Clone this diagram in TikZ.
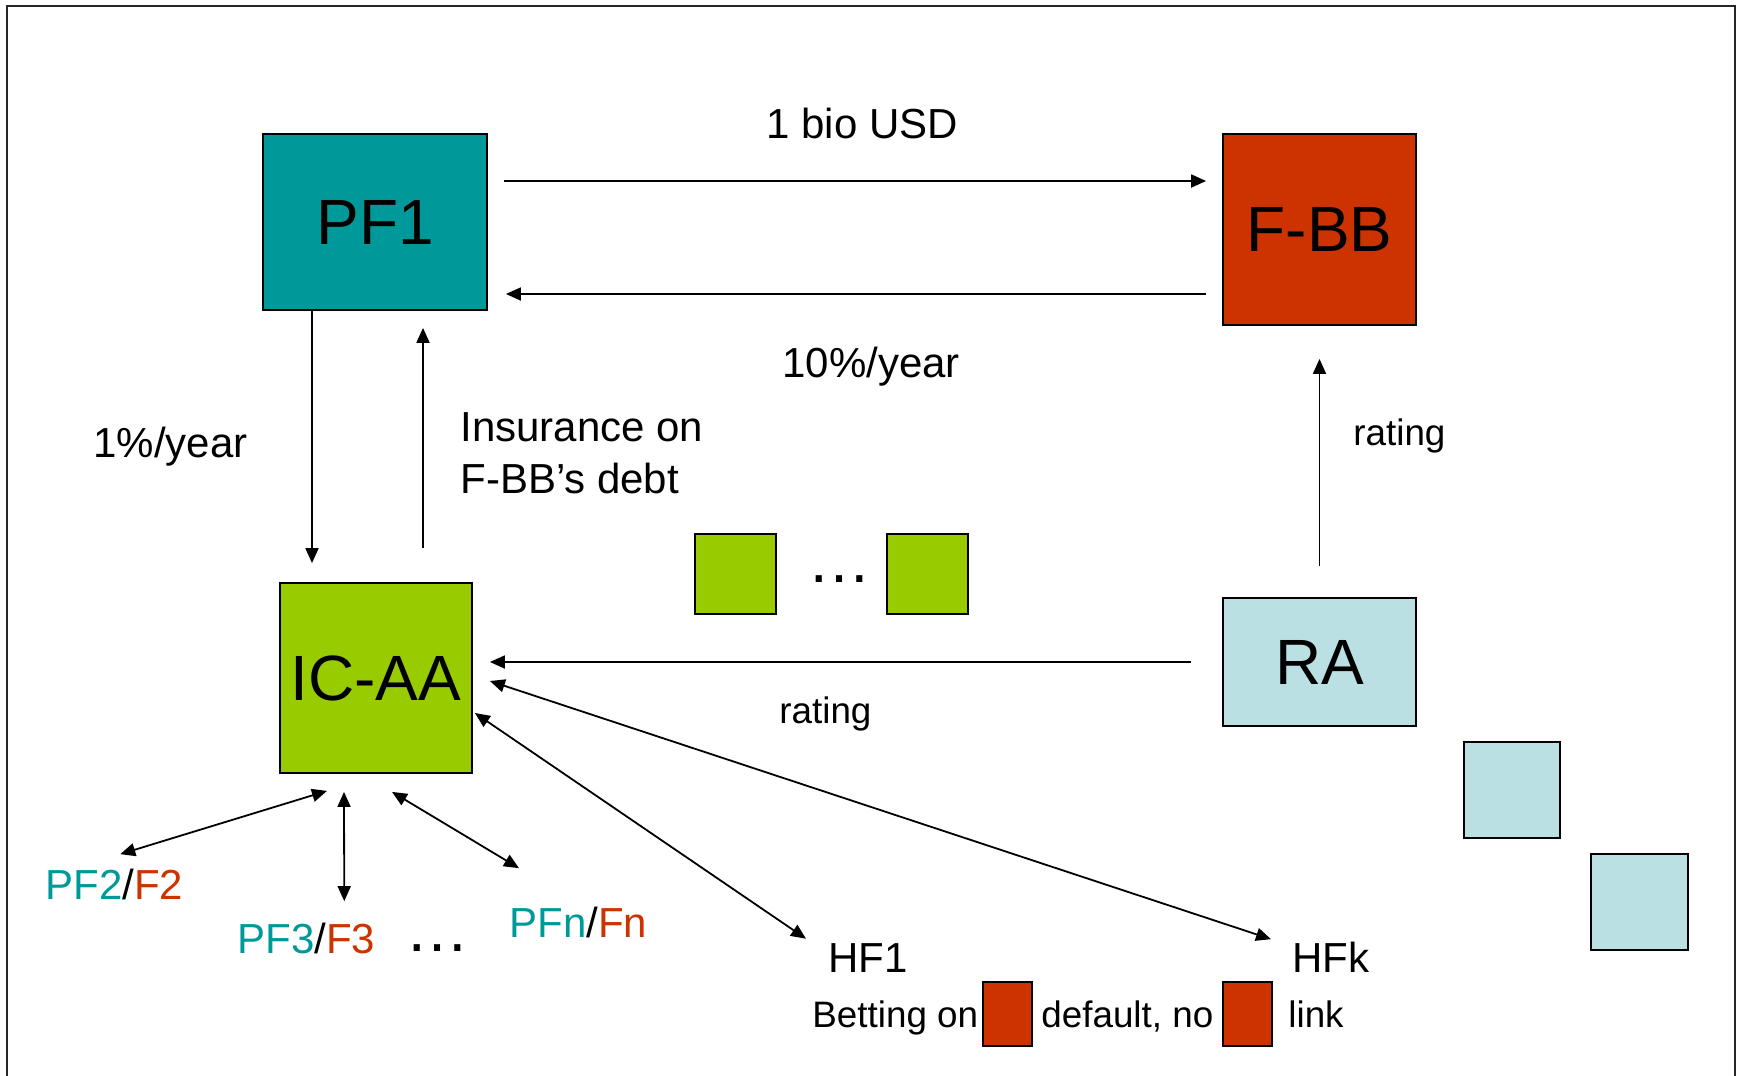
\documentclass[tikz,border=0pt]{standalone}
\usepackage{fontspec}
\setmainfont{Liberation Sans}
\usetikzlibrary{calc,arrows.meta}
\definecolor{pfteal}{HTML}{009999}
\definecolor{fbbred}{HTML}{CC3300}
\definecolor{icgreen}{HTML}{99CC00}
\definecolor{ralblue}{HTML}{BBE0E3}
\begin{document}
\begin{tikzpicture}[x=0.5pt,y=-0.5pt,
    box/.style={draw,line width=0.9pt,inner sep=0pt,font=\fontsize{32}{38}\selectfont},
    lbl/.style={inner sep=0pt,anchor=base west,font=\fontsize{21}{25}\selectfont},
    slbl/.style={inner sep=0pt,anchor=base west,font=\fontsize{18.4}{22}\selectfont},
    arr/.style={line width=0.9pt,-{Triangle[length=7.5pt,width=6.5pt]}},
    darr/.style={line width=0.9pt,{Triangle[length=7.5pt,width=6.5pt]}-{Triangle[length=7.5pt,width=6.5pt]}}]
  \useasboundingbox (0,0) rectangle (1740,1076);
  \draw[line width=1pt,black!85] (7,6) rectangle (1735,1100);
  % main players
  \node[box,fill=pfteal,minimum width=112pt,minimum height=88pt] (pf1) at (375,222) {PF1};
  \node[box,fill=fbbred,minimum width=96.5pt,minimum height=95.5pt] (fbb) at (1319.5,229.5) {F-BB};
  \node[box,fill=icgreen,minimum width=96pt,minimum height=95pt] (icaa) at (376,678) {IC-AA};
  \node[box,fill=ralblue,minimum width=96.5pt,minimum height=64pt] (ra) at (1319.5,662) {RA};
  % other insurers and agencies
  \node[box,fill=icgreen,minimum width=40.5pt,minimum height=40pt] (ic2) at (735.5,574) {};
  \node[lbl,font=\fontsize{32}{38}\selectfont] (icdots) at (807,582) {…};
  \node[box,fill=icgreen,minimum width=40.5pt,minimum height=40pt] (icm) at (927.5,574) {};
  \node[box,fill=ralblue,minimum width=48pt,minimum height=48pt] (ra2) at (1512,790) {};
  \node[box,fill=ralblue,minimum width=48.5pt,minimum height=48pt] (ra3) at (1639.5,902) {};
  % flows PF1 / F-BB
  \draw[arr] ($(pf1.east)+(16,-41)$) -- ($(fbb.west)+(-16,-48.5)$);
  \draw[arr] ($(fbb.west)+(-16,64.5)$) -- ($(pf1.east)+(18,72)$);
  \node[lbl] (usd) at (766,138) {1 bio USD};
  \node[lbl] (tenpct) at (782,377) {10\%/year};
  % flows PF1 / IC-AA
  \draw[arr] ($(pf1.south)+(-63,0)$) -- ($(icaa.north)+(-64,-19)$);
  \draw[arr] ($(icaa.north)+(47,-34)$) -- ($(pf1.south)+(48,17)$);
  \node[lbl] (onepct) at (93,457) {1\%/year};
  \node[lbl] (insur) at (460,441) {Insurance on};
  \node[lbl] (debt) at (460,493) {F-BB’s debt};
  % ratings
  \draw[arr] ($(ra.north)+(0,-31)$) -- ($(fbb.south)+(0,33)$);
  \draw[arr] ($(ra.west)+(-31,0)$) -- ($(icaa.east)+(17,-16)$);
  \node[slbl] (rate1) at (1353,445) {rating};
  \node[slbl] (rate2) at (779,723) {rating};
  % counterparties of IC-AA
  \node[lbl] (pf2) at (45,899) {\textcolor{pfteal}{PF2}/\textcolor{fbbred}{F2}};
  \node[lbl] (pf3) at (237,953) {\textcolor{pfteal}{PF3}/\textcolor{fbbred}{F3}};
  \node[lbl,font=\fontsize{32}{38}\selectfont] (pfdots) at (405,951) {…};
  \node[lbl] (pfn) at (509,937) {\textcolor{pfteal}{PFn}/\textcolor{fbbred}{Fn}};
  \node[lbl] (hf1) at (828,972) {HF1};
  \node[lbl] (hfk) at (1292,972) {HFk};
  \draw[darr] ($(icaa.south)+(-49,17)$) -- ($(pf2.north)+(6,-14)$);
  \draw[darr] ($(icaa.south)+(-32,18)$) -- ($(pf3.north)+(38,-21)$);
  \draw[darr] ($(icaa.south)+(16,18)$) -- ($(pfn.north west)+(10,-38)$);
  \draw[darr] ($(icaa.east)+(2,35)$) -- ($(hf1.north west)+(-22,-4)$);
  \draw[darr] ($(icaa.east)+(17,3)$) -- ($(hfk.north west)+(-21,-2)$);
  % betting line
  \node[slbl] (bet) at (812,1027) {Betting on};
  \node[box,fill=fbbred,minimum width=24.5pt,minimum height=32pt] (bet1) at (1007.5,1014) {};
  \node[slbl] (dflt) at (1041,1027) {default, no};
  \node[box,fill=fbbred,minimum width=24.5pt,minimum height=32pt] (bet2) at (1247.5,1014) {};
  \node[slbl] (link) at (1288,1027) {link};
\end{tikzpicture}
\end{document}
